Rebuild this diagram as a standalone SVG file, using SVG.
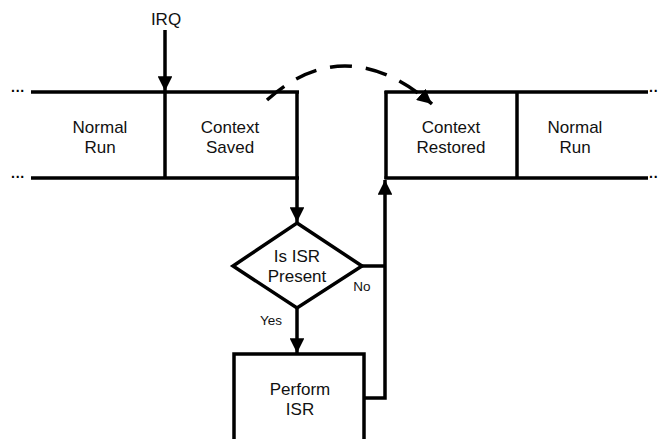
<svg xmlns="http://www.w3.org/2000/svg" width="660" height="439" viewBox="0 0 660 439">
  <style>
    .ln { stroke: #000; stroke-width: 3.5; fill: none; }
    .dash { stroke: #000; stroke-width: 3.5; fill: none; stroke-dasharray: 22 14; }
    .t { font-family: "Liberation Sans", Arial, sans-serif; font-size: 17px; fill: #111; text-anchor: middle; }
    .s { font-family: "Liberation Sans", Arial, sans-serif; font-size: 13.5px; fill: #111; text-anchor: middle; }
    .dots { font-family: "Liberation Sans", Arial, sans-serif; font-size: 14px; fill: #000; font-weight: bold; }
  </style>
  <defs>
    <marker id="arr" viewBox="0 0 10 10" refX="10" refY="5" markerWidth="4.2" markerHeight="4.2" orient="auto" markerUnits="strokeWidth">
      <path d="M0,0 L10,5 L0,10 z" fill="#000"/>
    </marker>
  </defs>
  <rect width="660" height="439" fill="#fff"/>

  <!-- left timeline -->
  <g id="timeline-left">
    <text class="dots" x="11" y="96">···</text>
    <text class="dots" x="11" y="182">···</text>
    <line class="ln" x1="31" y1="92" x2="299" y2="92"/>
    <line class="ln" x1="31" y1="178" x2="299" y2="178"/>
  </g>
  <g id="normal-run-left">
    <text class="t" x="100" y="133">Normal</text>
    <text class="t" x="100" y="153">Run</text>
  </g>
  <g id="context-saved">
    <line class="ln" x1="165" y1="92" x2="165" y2="178"/>
    <line class="ln" x1="297" y1="91" x2="297" y2="178"/>
    <text class="t" x="230" y="133">Context</text>
    <text class="t" x="230" y="153">Saved</text>
  </g>

  <!-- right timeline -->
  <g id="context-restored">
    <line class="ln" x1="386" y1="91" x2="386" y2="179"/>
    <line class="ln" x1="384.5" y1="92" x2="648" y2="92"/>
    <line class="ln" x1="384.5" y1="178" x2="648" y2="178"/>
    <text class="t" x="451" y="133">Context</text>
    <text class="t" x="451" y="153">Restored</text>
  </g>
  <g id="normal-run-right">
    <line class="ln" x1="517" y1="92" x2="517" y2="178"/>
    <text class="t" x="575" y="133">Normal</text>
    <text class="t" x="575" y="153">Run</text>
    <text class="dots" x="649" y="96">··</text>
    <text class="dots" x="649" y="182">··</text>
  </g>

  <g id="irq">
    <text class="t" x="166" y="25">IRQ</text>
  </g>

  <g id="decision">
    <polygon class="ln" points="297,223 362,266 297,308 233,266"/>
    <text class="t" x="297" y="262">Is ISR</text>
    <text class="t" x="297" y="282">Present</text>
  </g>

  <g id="perform-isr">
    <rect class="ln" x="234" y="354" width="130" height="90"/>
    <text class="t" x="300" y="395">Perform</text>
    <text class="t" x="300" y="415">ISR</text>
  </g>

  <g id="connectors">
    <line class="ln" x1="165" y1="30" x2="165" y2="91" marker-end="url(#arr)"/>
    <line class="ln" x1="297" y1="178" x2="297" y2="222" marker-end="url(#arr)"/>
    <line class="ln" x1="297" y1="308" x2="297" y2="353" marker-end="url(#arr)"/>
    <polyline class="ln" points="362,266 386,266"/>
    <polyline class="ln" points="364,398 385,398 385,180" marker-end="url(#arr)"/>
    <path class="dash" d="M267,100 Q345,30 432,104" marker-end="url(#arr)"/>
    <text class="s" x="271" y="325">Yes</text>
    <text class="s" x="362" y="291">No</text>
  </g>
</svg>
